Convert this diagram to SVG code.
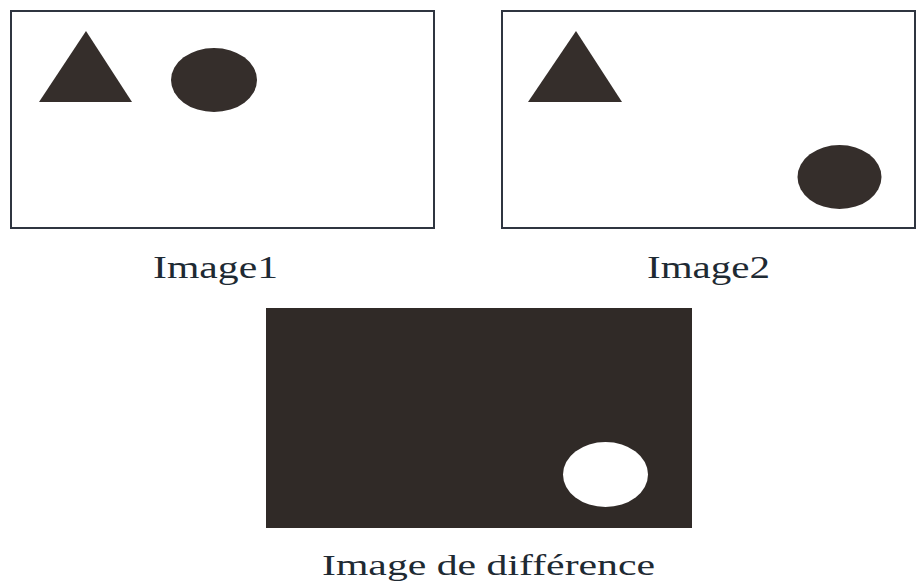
<svg xmlns="http://www.w3.org/2000/svg" width="916" height="583" viewBox="0 0 916 583">
<style>
.frame{fill:#ffffff;stroke:#2f3540;stroke-width:2}
.shape{fill:#352e2b}
.lbl{font-family:"Liberation Serif","Times New Roman",serif;font-size:32px;fill:#1e2a33}
</style>
<rect width="916" height="583" fill="#ffffff"/>
<g id="image1">
<rect class="frame" x="11" y="11" width="423" height="217"/>
<polygon class="shape" points="86,31 39,102 132,102"/>
<ellipse class="shape" cx="214" cy="80" rx="43" ry="32"/>
<text class="lbl" x="153" y="278" textLength="125" lengthAdjust="spacingAndGlyphs">Image1</text>
</g>
<g id="image2">
<rect class="frame" x="502" y="11" width="413" height="217"/>
<polygon class="shape" points="576,31 528,102 622,102"/>
<ellipse class="shape" cx="839.5" cy="177" rx="42" ry="32"/>
<text class="lbl" x="647" y="278" textLength="123" lengthAdjust="spacingAndGlyphs">Image2</text>
</g>
<g id="difference">
<rect x="266" y="308" width="426" height="220" fill="#302a27"/>
<ellipse cx="605.5" cy="474.5" rx="42.5" ry="32.5" fill="#ffffff"/>
<text class="lbl" x="322" y="575" font-size="30" textLength="333" lengthAdjust="spacingAndGlyphs" style="font-size:30px">Image de différence</text>
</g>
<g id="connectors"/>
</svg>
